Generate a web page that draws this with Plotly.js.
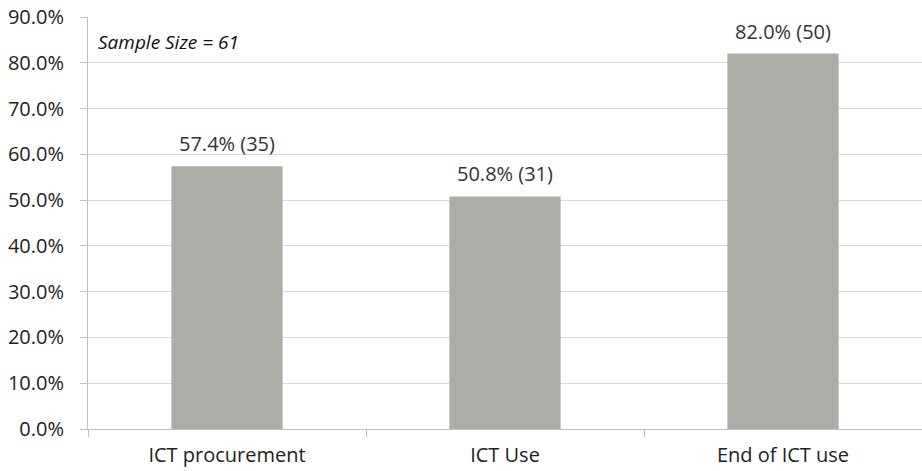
<!DOCTYPE html>
<html><head><meta charset="utf-8">
<script src="https://cdn.plot.ly/plotly-3.0.1.min.js"></script>
<style>html,body{margin:0;padding:0;background:#fff}#c{width:922px;height:471px}</style>
</head><body><div id="c"></div>
<script>
const categories = ["ICT procurement", "ICT Use", "End of ICT use"];
const percents = [57.4, 50.8, 82.0];
const counts = [35, 31, 50];
const sampleSize = 61;
const yTicks = [0,10,20,30,40,50,60,70,80,90];

const labels = percents.map((p,i)=> p.toFixed(1) + "% (" + counts[i] + ")");
const font = "'Open Sans', sans-serif";

const barLabels = categories.map((c,i)=>({
  x: c, y: percents[i], xref: "x", yref: "y",
  text: labels[i], showarrow: false,
  yanchor: "bottom", yshift: 7,
  font: {family: font, size: 20, color: "#333"}
}));

Plotly.newPlot("c", [{
  type: "bar",
  x: categories,
  y: percents,
  marker: {color: "#ADACA7", line: {width: 0}},
  width: 0.4,
  hoverinfo: "none"
}], {
  width: 922, height: 471,
  margin: {l: 88, r: 0, t: 17, b: 42},
  paper_bgcolor: "#fff", plot_bgcolor: "#fff",
  showlegend: false,
  xaxis: {
    showline: true, linecolor: "#BFBFBF", linewidth: 1,
    ticks: "outside", tickson: "boundaries", ticklen: 7, tickcolor: "#BFBFBF",
    ticklabelstandoff: 8,
    tickfont: {family: font, size: 20, color: "#222"},
    showgrid: false, zeroline: false
  },
  yaxis: {
    range: [0, 90],
    tickvals: yTicks,
    ticktext: yTicks.map(v => v.toFixed(1) + "%"),
    showline: true, linecolor: "#BFBFBF", linewidth: 1,
    ticks: "outside", ticklen: 7, tickcolor: "#BFBFBF",
    ticklabelstandoff: 12,
    showgrid: true, gridcolor: "#D9D9D9", gridwidth: 1,
    zeroline: false,
    tickfont: {family: font, size: 20, color: "#222"}
  },
  annotations: barLabels.concat([{
    xref: "paper", yref: "paper", x: 0.009, y: 0.94,
    xanchor: "left", yanchor: "middle", showarrow: false,
    text: "<i>Sample Size = " + sampleSize + "</i>",
    font: {family: font, size: 19, color: "#111"}
  }])
}, {staticPlot: true});
</script></body></html>
